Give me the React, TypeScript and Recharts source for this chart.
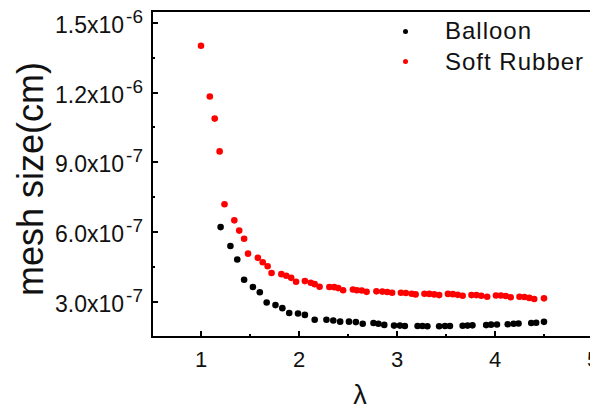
import React from 'react';
import { ScatterChart, Scatter, XAxis, YAxis } from 'recharts';

// λ positions and mesh sizes (cm)
const balloonLambda = [
  1.2, 1.3, 1.37, 1.44, 1.53, 1.6, 1.67, 1.76, 1.83, 1.9, 1.99, 2.06, 2.16, 2.28, 2.35, 2.42,
  2.51, 2.58, 2.65, 2.76, 2.81, 2.87, 2.97, 3.03, 3.08, 3.21, 3.26, 3.31, 3.43, 3.49, 3.54,
  3.67, 3.72, 3.77, 3.91, 3.96, 4.02, 4.13, 4.19, 4.24, 4.37, 4.42, 4.5,
];
const balloonSize = [
  6.22e-7, 5.41e-7, 4.83e-7, 3.96e-7, 3.65e-7, 3.42e-7, 2.98e-7, 2.87e-7, 2.74e-7, 2.53e-7,
  2.51e-7, 2.45e-7, 2.24e-7, 2.24e-7, 2.21e-7, 2.16e-7, 2.16e-7, 2.14e-7, 2.07e-7, 2.1e-7,
  2.07e-7, 2.02e-7, 1.99e-7, 1.99e-7, 1.97e-7, 1.97e-7, 1.97e-7, 1.96e-7, 1.96e-7, 1.97e-7,
  1.97e-7, 1.98e-7, 1.99e-7, 2.0e-7, 2.01e-7, 2.03e-7, 2.04e-7, 2.05e-7, 2.07e-7, 2.08e-7,
  2.1e-7, 2.11e-7, 2.15e-7,
];

const rubberLambda = [
  1.0, 1.09, 1.14, 1.19, 1.24, 1.34, 1.39, 1.44, 1.48, 1.58, 1.63, 1.68, 1.72, 1.82, 1.87,
  1.92, 1.97, 2.06, 2.12, 2.16, 2.21, 2.31, 2.36, 2.4, 2.45, 2.55, 2.59, 2.64, 2.69, 2.79,
  2.85, 2.9, 2.95, 3.04, 3.09, 3.15, 3.19, 3.28, 3.33, 3.38, 3.43, 3.52, 3.57, 3.62, 3.67,
  3.76, 3.81, 3.86, 3.92, 4.01, 4.06, 4.11, 4.16, 4.25, 4.3, 4.35, 4.4, 4.5,
];
const rubberSize = [
  1.401e-6, 1.183e-6, 1.088e-6, 9.47e-7, 7.2e-7, 6.51e-7, 6.07e-7, 5.72e-7, 5.08e-7, 4.9e-7,
  4.71e-7, 4.54e-7, 4.25e-7, 4.2e-7, 4.13e-7, 4.04e-7, 3.87e-7, 3.9e-7, 3.83e-7, 3.77e-7,
  3.66e-7, 3.65e-7, 3.64e-7, 3.6e-7, 3.51e-7, 3.54e-7, 3.51e-7, 3.5e-7, 3.44e-7, 3.46e-7,
  3.45e-7, 3.43e-7, 3.4e-7, 3.4e-7, 3.39e-7, 3.36e-7, 3.33e-7, 3.36e-7, 3.35e-7, 3.33e-7,
  3.3e-7, 3.35e-7, 3.34e-7, 3.31e-7, 3.27e-7, 3.3e-7, 3.3e-7, 3.27e-7, 3.23e-7, 3.28e-7,
  3.28e-7, 3.26e-7, 3.21e-7, 3.23e-7, 3.22e-7, 3.18e-7, 3.13e-7, 3.16e-7,
];

const xTicks = [1, 1.5, 2, 2.5, 3, 3.5, 4, 4.5, 5];
const yTicks = [3e-7, 4.5e-7, 6e-7, 7.5e-7, 9e-7, 1.05e-6, 1.2e-6, 1.35e-6, 1.5e-6];
const yMajor = [3e-7, 6e-7, 9e-7, 1.2e-6, 1.5e-6];
const yMantissa = ['3.0', '6.0', '9.0', '1.2', '1.5'];
const yExponent = ['-7', '-7', '-7', '-6', '-6'];

const series = [
  { name: 'Balloon', color: '#000000' },
  { name: 'Soft Rubber', color: '#ff0000' },
];

const balloon = balloonLambda.map((lambda, i) => ({ lambda, size: balloonSize[i] }));
const rubber = rubberLambda.map((lambda, i) => ({ lambda, size: rubberSize[i] }));

const X_MIN = 0.5;
const X_MAX = 5;
const Y_MIN = 1.5e-7;
const Y_MAX = 1.55e-6;

const W = 590;
const H = 401;
const M = { top: 3, right: 5, bottom: 0, left: 0 };
const Y_W = 144;
const X_H = 72;
const PLOT_W = W - M.left - M.right - Y_W;
const PLOT_H = H - M.top - M.bottom - X_H;

const FONT = '"Liberation Sans", Arial, sans-serif';
const OFF = 8; // default tickSize (6) + tickMargin (2)

const isYMajor = (v: number) => yMajor.findIndex((m) => Math.abs(m - v) < 1e-10);

function XTick(props: any) {
  const { x, y, payload } = props;
  if (!Number.isInteger(payload.value)) return <g />;
  return (
    <text x={x} y={y - OFF + 30} textAnchor="middle" fontSize={22} fill="#111" fontFamily={FONT}>
      {payload.value}
    </text>
  );
}

function YTick(props: any) {
  const { x, y, payload } = props;
  const idx = isYMajor(payload.value);
  if (idx < 0) return <g />;
  return (
    <text x={x + OFF - 9} y={y + 10} textAnchor="end" fill="#111" fontFamily={FONT}>
      <tspan fontSize={23}>{yMantissa[idx]}x10</tspan>
      <tspan fontSize={19} dx={2} dy={-10}>{yExponent[idx]}</tspan>
    </text>
  );
}

const Dot = (color: string) => (p: any) => <circle cx={p.cx} cy={p.cy} r={3.3} fill={color} />;

export default function App() {
  return (
    <div style={{ position: 'relative', width: W, height: H, fontFamily: FONT, color: '#111' }}>
      <ScatterChart width={W} height={H} margin={M}>
        <XAxis
          type="number"
          dataKey="lambda"
          domain={[X_MIN, X_MAX]}
          ticks={xTicks}
          height={X_H}
          tick={XTick}
          tickLine={false}
          axisLine={false}
        />
        <YAxis
          type="number"
          dataKey="size"
          domain={[Y_MIN, Y_MAX]}
          ticks={yTicks}
          width={Y_W}
          tick={YTick}
          tickLine={false}
          axisLine={false}
        />
        <Scatter name="Balloon" data={balloon} fill="#000" shape={Dot('#000')} isAnimationActive={false} />
        <Scatter name="Soft Rubber" data={rubber} fill="#ff0000" shape={Dot('#ff0000')} isAnimationActive={false} />
      </ScatterChart>

      {/* plot frame with inward ticks */}
      <div
        style={{
          position: 'absolute',
          left: M.left + Y_W - 1,
          top: M.top - 1,
          width: PLOT_W + 2,
          height: PLOT_H + 2,
          border: '2px solid #000',
          boxSizing: 'border-box',
          pointerEvents: 'none',
        }}
      >
        <div style={{ position: 'absolute', left: -1, top: -1, width: PLOT_W, height: PLOT_H }}>
          {xTicks.map((v) => {
            const len = Number.isInteger(v) ? 6 : 3;
            const px = ((v - X_MIN) / (X_MAX - X_MIN)) * PLOT_W;
            return (
              <div
                key={`x${v}`}
                style={{ position: 'absolute', left: px - 1, top: PLOT_H - len, width: 2, height: len, background: '#000' }}
              />
            );
          })}
          {yTicks.map((v) => {
            const len = isYMajor(v) >= 0 ? 6 : 3;
            const py = (1 - (v - Y_MIN) / (Y_MAX - Y_MIN)) * PLOT_H;
            return (
              <div
                key={`y${v}`}
                style={{ position: 'absolute', left: 0, top: py - 1, width: len, height: 2, background: '#000' }}
              />
            );
          })}
        </div>
      </div>

      {/* legend */}
      <div style={{ position: 'absolute', left: 395, top: 8, fontSize: 24, letterSpacing: 1 }}>
        {series.map((s) => (
          <div key={s.name} style={{ display: 'flex', alignItems: 'center', height: 30.5, whiteSpace: 'nowrap' }}>
            <span style={{ width: 5, height: 5, borderRadius: 3, background: s.color, marginRight: 37 }} />
            {s.name}
          </div>
        ))}
      </div>

      {/* axis titles */}
      <div
        style={{
          position: 'absolute',
          left: 332,
          top: 374,
          width: 40,
          textAlign: 'center',
          fontSize: 27,
          lineHeight: '27px',
        }}
      >
        λ
      </div>
      <div
        style={{
          position: 'absolute',
          left: -107.5,
          top: 152.5,
          width: 260,
          height: 36,
          lineHeight: '36px',
          textAlign: 'center',
          fontSize: 36,
          whiteSpace: 'nowrap',
          transform: 'rotate(-90deg)',
        }}
      >
        mesh size(cm)
      </div>
    </div>
  );
}
